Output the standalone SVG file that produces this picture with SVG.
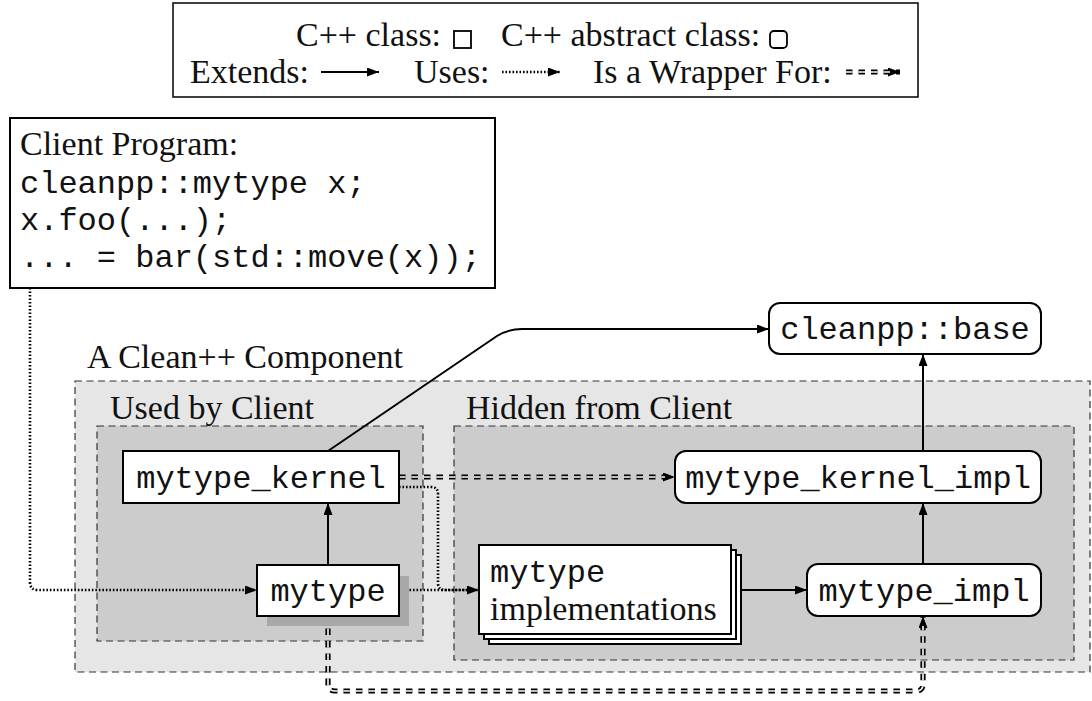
<svg xmlns="http://www.w3.org/2000/svg" width="1092" height="701" viewBox="0 0 1092 701">
  <defs>
    <marker id="tip" viewBox="0 0 12 9" refX="12" refY="4.5" markerWidth="12" markerHeight="9" markerUnits="userSpaceOnUse" orient="auto">
      <path d="M0,0 L12,4.5 L0,9 z" fill="#000"/>
    </marker>
    <style>
      .serif { font-family: "Liberation Serif", "DejaVu Serif", serif; font-size: 34px; fill: #111; }
      .mono { font-family: "Liberation Mono", "DejaVu Sans Mono", monospace; font-size: 32px; fill: #111; }
      .box { fill: #fff; stroke: #000; stroke-width: 2; }
      .zone { stroke: #333; stroke-width: 1.2; stroke-dasharray: 7 4.5; }
      .extends { fill: none; stroke: #000; stroke-width: 2; }
      .uses { fill: none; stroke: #000; stroke-width: 2.6; stroke-dasharray: 1.6 1.9; }
      .wrapOuter { fill: none; stroke: #000; stroke-width: 5.2; stroke-dasharray: 6.5 6; }
      .wrapInner { fill: none; stroke: #fff; stroke-width: 1.6; stroke-dasharray: 6.5 6; }
    </style>
  </defs>

  <!-- legend -->
  <g id="legend">
    <rect x="173" y="3" width="745" height="94" fill="#fff" stroke="#000" stroke-width="1.5"/>
    <text class="serif" x="296" y="46">C++ class:</text>
    <rect x="454" y="31" width="17" height="17" fill="#fff" stroke="#000" stroke-width="1.8"/>
    <text class="serif" x="501" y="46">C++ abstract class:</text>
    <rect x="770" y="31" width="17" height="17" rx="4" fill="#fff" stroke="#000" stroke-width="1.8"/>
    <text class="serif" x="190" y="83">Extends:</text>
    <path class="extends" d="M321,72 L379,72" marker-end="url(#tip)"/>
    <text class="serif" x="414" y="83">Uses:</text>
    <path class="uses" d="M502,72 L560,72" marker-end="url(#tip)"/>
    <text class="serif" x="593" y="83">Is a Wrapper For:</text>
    <path class="wrapOuter" d="M846,72 L900,72" marker-end="url(#tip)"/>
    <path class="wrapInner" d="M846,72 L890,72"/>
  </g>

  <!-- client code -->
  <g id="client">
    <rect class="box" x="10" y="118" width="485" height="170"/>
    <text class="serif" x="20" y="155">Client Program:</text>
    <text class="mono" x="20" y="193">cleanpp::mytype x;</text>
    <text class="mono" x="20" y="230">x.foo(...);</text>
    <text class="mono" x="20" y="267">... = bar(std::move(x));</text>
  </g>

  <!-- component regions -->
  <g id="component">
    <text class="serif" x="87" y="368">A Clean++ Component</text>
    <rect class="zone" x="75" y="381" width="1015" height="291" fill="#e6e6e6"/>
  </g>
  <g id="used-by-client">
    <text class="serif" x="110" y="419">Used by Client</text>
    <rect class="zone" x="97" y="426" width="326" height="215" fill="#cccccc"/>
  </g>
  <g id="hidden-from-client">
    <text class="serif" x="466" y="419">Hidden from Client</text>
    <rect class="zone" x="454" y="426" width="620" height="234" fill="#cccccc"/>
  </g>

  <!-- connectors -->
  <g id="connectors">
    <path class="extends" d="M328,451 L497,336 Q508,329 522,329 L769,329" marker-end="url(#tip)"/>
    <path class="extends" d="M923,451 L923,354" marker-end="url(#tip)"/>
    <path class="extends" d="M923,564 L923,503" marker-end="url(#tip)"/>
    <path class="extends" d="M328,565 L328,503" marker-end="url(#tip)"/>
    <path class="extends" d="M741,590 L807,590" marker-end="url(#tip)"/>

    <path class="uses" d="M30,288 L30,582 Q30,590 38,590 L257,590" marker-end="url(#tip)"/>
    <path class="uses" d="M399,590 L479,590" marker-end="url(#tip)"/>
    <path class="uses" d="M399,487 L431,487 Q438,487 438,494 L438,583 Q438,590 445,590 L470,590"/>

    <path class="wrapOuter" d="M399,477 L675,477" marker-end="url(#tip)"/>
    <path class="wrapInner" d="M399,477 L665,477"/>
    <path class="wrapOuter" d="M328,616 L328,684 Q328,691 335,691 L916,691 Q923,691 923,684 L923,616" marker-end="url(#tip)"/>
    <path class="wrapInner" d="M328,616 L328,684 Q328,691 335,691 L916,691 Q923,691 923,684 L923,626"/>
  </g>

  <!-- classes -->
  <g id="mytype_kernel">
    <rect class="box" x="123" y="451" width="276" height="52"/>
    <text class="mono" x="261" y="488" text-anchor="middle">mytype_kernel</text>
  </g>
  <g id="mytype">
    <rect x="267" y="576" width="142" height="50" fill="#a8a8a8"/>
    <rect class="box" x="257" y="565" width="142" height="51"/>
    <text class="mono" x="328" y="601" text-anchor="middle">mytype</text>
  </g>
  <g id="mytype_implementations">
    <rect class="box" x="489" y="555" width="252" height="89" stroke-width="1.6"/>
    <rect class="box" x="484" y="550" width="252" height="89" stroke-width="1.6"/>
    <rect class="box" x="479" y="545" width="252" height="89"/>
    <text class="mono" x="490" y="582">mytype</text>
    <text class="serif" x="490" y="620">implementations</text>
  </g>
  <g id="cleanpp_base">
    <rect class="box" x="769" y="303" width="272" height="51" rx="11"/>
    <text class="mono" x="905" y="339" text-anchor="middle">cleanpp::base</text>
  </g>
  <g id="mytype_kernel_impl">
    <rect class="box" x="675" y="451" width="366" height="52" rx="11"/>
    <text class="mono" x="858" y="488" text-anchor="middle">mytype_kernel_impl</text>
  </g>
  <g id="mytype_impl">
    <rect class="box" x="807" y="564" width="234" height="52" rx="11"/>
    <text class="mono" x="924" y="601" text-anchor="middle">mytype_impl</text>
  </g>
</svg>
